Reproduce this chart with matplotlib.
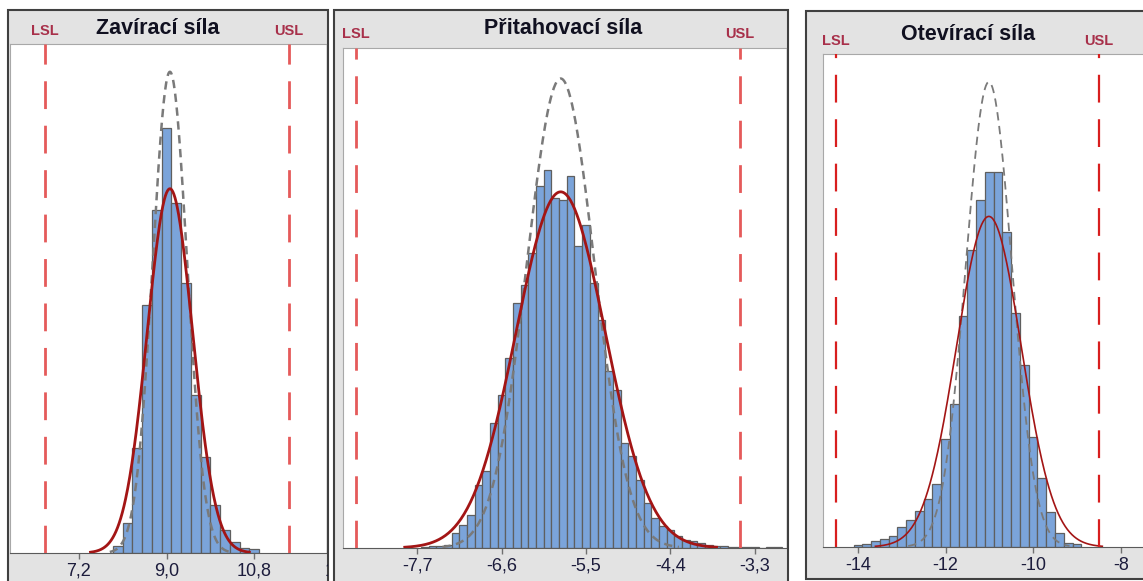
import numpy as np
import matplotlib
matplotlib.use("Agg")
import matplotlib.pyplot as plt
from matplotlib.patches import Rectangle
from matplotlib import transforms

plt.rcParams['font.family'] = ['Liberation Sans', 'DejaVu Sans']
plt.rcParams['lines.scale_dashes'] = False

# ---- data ----
titles = ["Zavírací síla", "Přitahovací síla", "Otevírací síla"]
lsl = [6.5, -8.5, -14.5]
usl = [11.5, -3.5, -8.5]

# histogram: first bin edge, bin width, bar counts
zav_start, zav_width = 7.9, 0.2
zav_counts = [7, 30, 105, 248, 343, 425, 350, 270, 158, 96, 48, 23, 11, 5, 4]

pri_start, pri_width = -7.65, 0.1
pri_counts = [1, 2, 2, 3, 15, 23, 33, 63, 77, 125, 153, 190, 245, 263, 295,
              362, 378, 350, 348, 372, 302, 323, 265, 228, 177, 158, 105, 92,
              68, 45, 30, 22, 18, 12, 8, 7, 5, 3, 2, 2, 1, 1, 1, 1, 0, 1, 1]

ote_start, ote_width = -14.1, 0.2
ote_counts = [2, 3, 6, 8, 11, 20, 27, 36, 48, 63, 108, 143, 231, 297, 347,
              375, 375, 315, 234, 182, 110, 69, 35, 14, 4, 3]

# normal fits: mean, overall st.dev., within st.dev.
zav_fit = (9.07, 0.465, 0.352)
pri_fit = (-5.83, 0.58, 0.44)
ote_fit = (-11.01, 0.74, 0.526)

zav_ticks = [7.2, 9.0, 10.8]
zav_labels = ["7,2", "9,0", "10,8"]
pri_ticks = [-7.7, -6.6, -5.5, -4.4, -3.3]
pri_labels = ["-7,7", "-6,6", "-5,5", "-4,4", "-3,3"]
ote_ticks = [-14, -12, -10, -8]
ote_labels = ["-14", "-12", "-10", "-8"]

# ---- styling ----
W, H = 1143, 581
band_gray = '#e3e3e3'
frame_col = '#404040'
bar_face = '#7ba4da'
bar_edge = '#5f5f5f'
fit_red = '#a31515'
within_gray = '#7a7a7a'
label_red = '#a8304a'
tick_col = '#1c1c3c'


def fig_rect(x0, y0, x1, y1):
    return [x0 / W, 1 - y1 / H, (x1 - x0) / W, (y1 - y0) / H]


def normal(x, m, s):
    return np.exp(-0.5 * ((x - m) / s) ** 2) / (s * np.sqrt(2 * np.pi))


fig = plt.figure(figsize=(W / 100, H / 100), dpi=100)
fig.patch.set_facecolor('white')


def panel(frame, area, xlim, title, title_xy, spec_y, start, width, counts,
          fit, lo, hi, ticks, labels, spec_col, curve_lw, spec_lw, within_lw):
    fig.add_artist(Rectangle((frame[0] / W, 1 - frame[3] / H),
                             (frame[2] - frame[0]) / W, (frame[3] - frame[1]) / H,
                             transform=fig.transFigure, facecolor=band_gray,
                             edgecolor=frame_col, lw=1.5, zorder=-1))
    ax = fig.add_axes(fig_rect(*area))
    ax.set_facecolor('white')

    counts = np.array(counts, dtype=float)
    edges = start + width * np.arange(len(counts))
    ax.bar(edges, counts, width=width, align='edge', color=bar_face,
           edgecolor=bar_edge, linewidth=0.9, zorder=2)

    m, s_all, s_in = fit
    area_n = counts.sum() * width
    xs = np.linspace(m - 3.5 * s_in, m + 3.5 * s_in, 300)
    ax.plot(xs, area_n * normal(xs, m, s_in), color=within_gray, lw=within_lw,
            dashes=(6, 4), zorder=3)
    xs = np.linspace(m - 3.5 * s_all, m + 3.5 * s_all, 300)
    ax.plot(xs, area_n * normal(xs, m, s_all), color=fit_red, lw=curve_lw,
            zorder=4)

    for v in (lo, hi):
        ax.axvline(v, color=spec_col, lw=spec_lw, dashes=(20, 12), zorder=5)

    ax.set_xlim(*xlim)
    ax.set_ylim(0, area[3] - area[1])
    ax.set_yticks([])
    ax.set_xticks(ticks)
    ax.set_xticklabels(labels)
    ax.tick_params(axis='x', length=4, width=1, color='#707070', pad=3,
                   labelsize=13, labelcolor=tick_col)
    ax.spines['right'].set_visible(False)
    ax.spines['bottom'].set_color('#5a5a5a')
    for side in ('top', 'left'):
        ax.spines[side].set_color('#a8a8a8')

    fig.text(title_xy[0] / W, 1 - title_xy[1] / H, title, ha='center',
             va='center', fontsize=15.5, fontweight='bold', color='#101020')
    blend = transforms.blended_transform_factory(ax.transData, fig.transFigure)
    for v, name in ((lo, 'LSL'), (hi, 'USL')):
        ax.text(v, 1 - spec_y / H, name, transform=blend, ha='center',
                va='center', fontsize=10.5, fontweight='bold',
                color=label_red, clip_on=False)
    return ax


# panel 1: 9.0 at 166.5 px, 48.8 px per unit
ax1 = panel((8, 10, 328, 600), (10, 44, 326, 553),
            (9.0 - 156.5 / 48.8, 9.0 + 159.5 / 48.8),
            titles[0], (158, 28), 31, zav_start, zav_width, zav_counts,
            zav_fit, lsl[0], usl[0], zav_ticks, zav_labels, '#e55a5a',
            2.0, 2.0, 1.8)
# partly hidden 12,6 label at the panel edge
t = ax1.text(12.24, 1 - 571 / H, "12,6", fontsize=13, color=tick_col,
             ha='left', va='center',
             transform=transforms.blended_transform_factory(ax1.transData, fig.transFigure))
t.set_clip_box(transforms.TransformedBbox(
    transforms.Bbox([[0, 0], [327.5 / W, 1]]), fig.transFigure))
t.set_clip_on(True)

# panel 2: -5.5 at 586 px, 76.8 px per unit
panel((334, 10, 788, 600), (343, 48, 786, 548),
      (-5.5 - 243 / 76.8, -5.5 + 200 / 76.8),
      titles[1], (563, 28), 34, pri_start, pri_width, pri_counts,
      pri_fit, lsl[1], usl[1], pri_ticks, pri_labels, '#e55a5a',
      2.0, 2.0, 1.8)

# panel 3: -12 at 945.5 px, 43.8 px per unit
panel((806, 11, 1170, 579), (823, 54, 1170, 547),
      (-12 - 122.5 / 43.8, -12 + 224.5 / 43.8),
      titles[2], (968, 35), 41, ote_start, ote_width, ote_counts,
      ote_fit, lsl[2], usl[2], ote_ticks, ote_labels, '#d81e1e',
      1.2, 1.6, 1.3)

fig.savefig('out.png', dpi=100)
